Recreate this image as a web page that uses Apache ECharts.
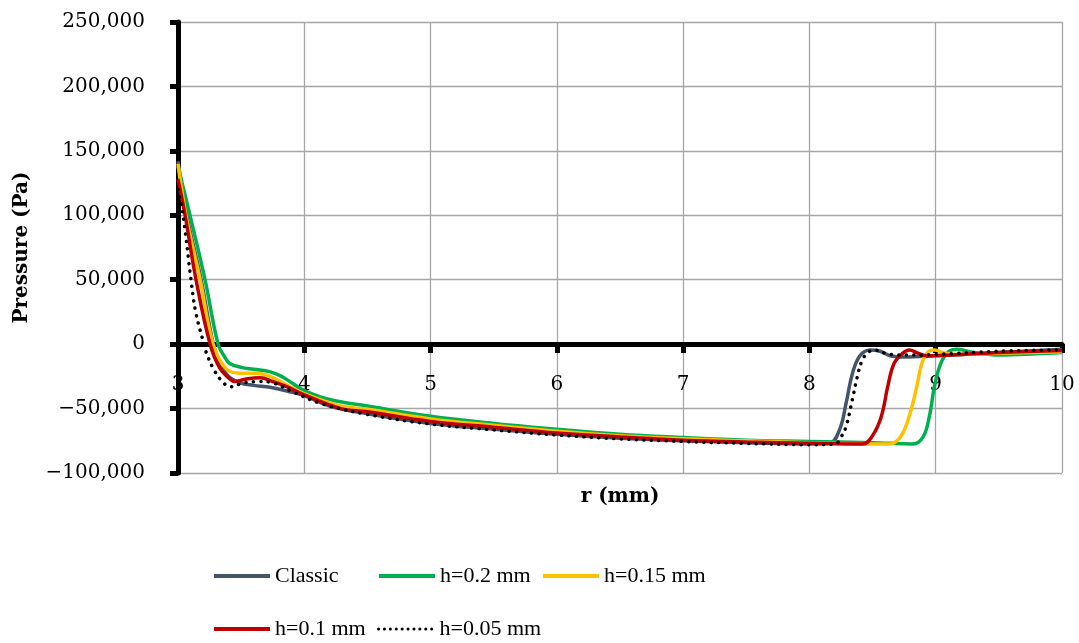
<!DOCTYPE html>
<html>
<head>
<meta charset="utf-8">
<script src="https://cdn.jsdelivr.net/npm/echarts@6/dist/echarts.min.js"></script>
<style>html,body{margin:0;padding:0;background:#fff}#c{width:1079px;height:643px}</style>
</head>
<body>
<div id="c"></div>
<script>
// ---- data (r in mm, pressure in Pa) ----
var seriesNames = ['Classic', 'h=0.2 mm', 'h=0.15 mm', 'h=0.1 mm', 'h=0.05 mm'];
var xTicks = [3, 4, 5, 6, 7, 8, 9, 10];
var yTicks = [-100000, -50000, 0, 50000, 100000, 150000, 200000, 250000];

var rClassic = [3.0, 3.07, 3.183, 3.28, 3.34, 3.4, 3.49, 3.6, 3.73, 3.87, 4.0, 4.2, 4.5, 5.0, 5.5, 6.0, 6.5, 7.0, 7.5, 8.0, 8.16, 8.24, 8.29, 8.34, 8.4, 8.48, 8.56, 8.64, 8.75, 9.0, 9.5, 10.0];
var pClassic = [142000, 100000, 50000, 0, -16000, -25000, -30000, -32000, -33500, -36500, -40000, -48000, -54000, -61500, -66000, -70000, -73000, -75000, -76500, -77500, -77000, -66000, -46000, -23000, -9000, -4500, -5500, -9000, -10000, -9000, -6500, -4000];

var rH20 = [3.0, 3.095, 3.214, 3.317, 3.37, 3.41, 3.5, 3.6, 3.73, 3.82, 3.9, 4.0, 4.2, 4.5, 5.0, 5.5, 6.0, 6.5, 7.0, 7.5, 8.0, 8.5, 8.82, 8.9, 8.95, 8.99, 9.04, 9.1, 9.17, 9.3, 9.5, 9.8, 10.0];
var pH20 = [138000, 100000, 50000, 0, -10000, -15000, -18000, -19500, -21500, -25000, -30000, -36000, -43000, -48000, -56000, -61500, -66000, -70000, -72500, -74500, -75500, -76500, -77500, -72000, -56000, -33000, -15000, -6000, -4000, -6500, -8500, -7500, -6500];

var rH15 = [3.0, 3.063, 3.175, 3.278, 3.38, 3.49, 3.62, 3.73, 3.83, 3.99, 4.29, 4.5, 5.0, 5.5, 6.0, 6.5, 7.0, 7.5, 8.0, 8.5, 8.63, 8.72, 8.79, 8.85, 8.89, 8.94, 8.99, 9.07, 9.2, 9.5, 10.0];
var pH15 = [140000, 100000, 50000, 0, -19000, -22500, -22500, -25000, -30000, -38000, -48000, -50500, -58000, -63000, -67500, -71000, -73500, -75000, -76500, -77500, -77500, -72000, -56000, -33000, -15000, -6000, -4500, -7000, -8000, -7000, -6000];

var rH10 = [3.0, 3.056, 3.143, 3.254, 3.33, 3.41, 3.45, 3.54, 3.65, 3.75, 3.86, 3.99, 4.29, 4.5, 5.0, 5.5, 6.0, 6.5, 7.0, 7.5, 8.0, 8.42, 8.5, 8.57, 8.62, 8.67, 8.74, 8.79, 8.86, 8.93, 9.2, 9.5, 10.0];
var pH10 = [128000, 100000, 50000, 0, -18500, -27000, -29000, -27000, -26000, -29000, -33000, -39000, -50000, -52500, -60000, -64500, -69000, -72000, -74500, -76000, -77000, -77500, -71000, -56000, -33000, -15000, -7000, -4500, -7000, -9000, -8000, -6500, -5000];

var rH05 = [3.0, 3.04, 3.103, 3.14, 3.205, 3.22, 3.28, 3.36, 3.42, 3.52, 3.65, 3.75, 3.91, 4.13, 4.5, 5.0, 5.5, 6.0, 6.5, 7.0, 7.5, 8.0, 8.2, 8.25, 8.29, 8.34, 8.38, 8.42, 8.47, 8.52, 8.6, 8.7, 9.0, 9.5, 10.0];
var pH05 = [120000, 100000, 50000, 25000, 0, -5500, -19000, -30000, -33000, -30000, -29000, -30000, -37000, -46000, -54500, -62000, -66500, -70500, -73500, -75500, -77000, -78000, -77500, -72000, -64000, -43000, -25000, -12000, -6000, -4700, -7000, -8500, -8000, -5500, -4500];

// ---- build ----
function pairs(rs, ps) { return rs.map(function (r, i) { return [r, ps[i]]; }); }
var colors = ['#44546A', '#00B050', '#FFC000', '#C00000', '#000000'];
var datasets = [pairs(rClassic, pClassic), pairs(rH20, pH20), pairs(rH15, pH15), pairs(rH10, pH10), pairs(rH05, pH05)];

function fmtY(v) {
  var s = Math.abs(v).toString().replace(/\B(?=(\d{3})+(?!\d))/g, ',');
  return (v < 0 ? '\u2212' : '') + s;
}

var serif = 'DejaVu Serif';
var series = datasets.map(function (d, i) {
  var dotted = i === 4;
  return {
    name: seriesNames[i],
    type: 'line',
    data: d,
    symbol: 'none',
    smooth: 0.4,
    z: 3 + i,
    lineStyle: {
      color: colors[i],
      width: dotted ? 3.5 : 3.5,
      type: dotted ? [0.1, 7.4] : 'solid',
      cap: dotted ? 'round' : 'butt'
    },
    itemStyle: { color: colors[i] }
  };
});

var legendPos = [[212, 565], [377, 565], [541, 565], [212, 618], [377, 618]];
var legends = seriesNames.map(function (n, i) {
  return {
    data: [n],
    left: legendPos[i][0],
    top: legendPos[i][1],
    padding: 0,
    itemGap: 0,
    itemWidth: 56,
    itemHeight: 14,
    selectedMode: false,
    itemStyle: { opacity: 0 },
    lineStyle: i === 4 ? { width: 3, type: [0.1, 5.8], cap: 'round' } : { width: 4 },
    textStyle: { fontFamily: 'Liberation Serif', fontSize: 22, color: '#000' }
  };
});

var chart = echarts.init(document.getElementById('c'), null, { renderer: 'canvas' });
chart.setOption({
  animation: false,
  backgroundColor: '#fff',
  legend: legends,
  grid: { left: 178, right: 17, top: 22, bottom: 170, containLabel: false },
  xAxis: {
    type: 'value',
    position: 'bottom',
    offset: -129,
    min: xTicks[0],
    max: xTicks[xTicks.length - 1],
    interval: 1,
    name: 'r (mm)',
    nameLocation: 'middle',
    nameGap: 143,
    nameTextStyle: { fontFamily: serif, fontWeight: 'bold', fontSize: 20, color: '#000' },
    axisLine: { onZero: false, lineStyle: { color: '#000', width: 5 } },
    axisTick: { show: true, length: 9, lineStyle: { color: '#000', width: 5 } },
    axisLabel: { fontFamily: serif, fontSize: 20, color: '#000', margin: 31 },
    splitLine: { show: true, lineStyle: { color: '#A6A6A6', width: 1.3 } }
  },
  yAxis: {
    type: 'value',
    min: yTicks[0],
    max: yTicks[yTicks.length - 1],
    interval: 50000,
    name: 'Pressure (Pa)',
    nameLocation: 'middle',
    nameGap: 146,
    nameTextStyle: { fontFamily: serif, fontWeight: 'bold', fontSize: 20, color: '#000' },
    axisLine: { show: true, onZero: false, lineStyle: { color: '#000', width: 5 } },
    axisTick: { show: true, length: 8, lineStyle: { color: '#000', width: 5 } },
    axisLabel: { fontFamily: serif, fontSize: 20, color: '#000', margin: 33, formatter: fmtY },
    splitLine: { show: true, lineStyle: { color: '#A6A6A6', width: 1.3 } }
  },
  series: series
});
</script>
</body>
</html>
